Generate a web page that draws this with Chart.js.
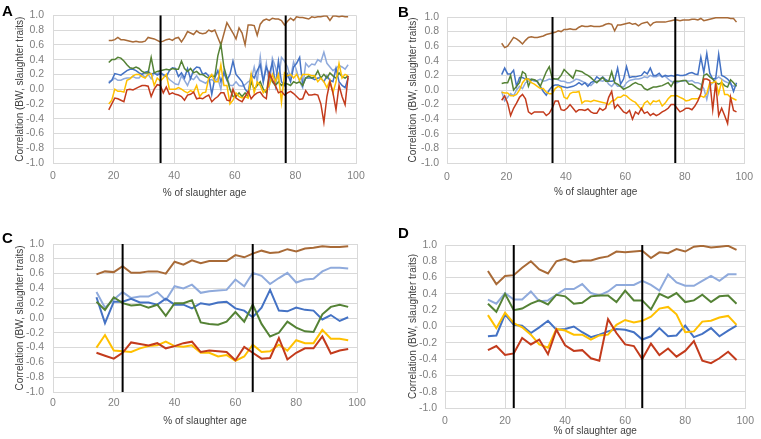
<!DOCTYPE html>
<html>
<head>
<meta charset="utf-8">
<script src="https://cdn.jsdelivr.net/npm/chart.js@4.4.1/dist/chart.umd.min.js"></script>
<style>
  body { margin: 0; background: #fff; width: 761px; height: 439px; position: relative; overflow: hidden; font-family: "Liberation Sans", Arial, sans-serif; }
  .panel { position: absolute; }
  .tag { position: absolute; font-weight: bold; font-size: 15px; line-height: 1; color: #000; }
</style>
</head>
<body>
<div class="panel" style="left:0;top:0;width:380px;height:219px"><canvas id="chartA"></canvas></div>
<div class="panel" style="left:380px;top:0;width:381px;height:219px"><canvas id="chartB"></canvas></div>
<div class="panel" style="left:0;top:219px;width:380px;height:220px"><canvas id="chartC"></canvas></div>
<div class="panel" style="left:380px;top:219px;width:381px;height:220px"><canvas id="chartD"></canvas></div>
<div class="tag" style="left:2px;top:3px">A</div>
<div class="tag" style="left:398px;top:4px">B</div>
<div class="tag" style="left:2px;top:230px">C</div>
<div class="tag" style="left:398px;top:225px">D</div>
<script>
// x positions (% of slaughter age)
const ageAB = [
  18.4, 19.4, 20.4, 21.4, 22.4, 23.4, 24.4, 25.4, 26.4, 27.4,
  28.4, 29.4, 30.4, 31.4, 32.4, 33.4, 34.4, 35.4, 36.4, 37.4,
  38.4, 39.4, 40.4, 41.4, 42.4, 43.4, 44.4, 45.4, 46.4, 47.4,
  48.4, 49.4, 50.4, 51.4, 52.4, 53.4, 54.4, 55.4, 56.4, 57.4,
  58.4, 59.4, 60.4, 61.4, 62.4, 63.4, 64.4, 65.4, 66.4, 67.4,
  68.4, 69.4, 70.4, 71.4, 72.4, 73.4, 74.4, 75.4, 76.4, 77.4,
  78.4, 79.4, 80.4, 81.4, 82.4, 83.4, 84.4, 85.4, 86.4, 87.4,
  88.4, 89.4, 90.4, 91.4, 92.4, 93.4, 94.4, 95.4, 96.4, 97.4
]
const ageCD = [14.3, 17.1, 20.0, 22.9, 25.7, 28.6, 31.4, 34.3, 37.1, 40.0,
  42.9, 45.7, 48.6, 51.4, 54.3, 57.1, 60.0, 62.9, 65.7, 68.6,
  71.4, 74.3, 77.1, 80.0, 82.9, 85.7, 88.6, 91.4, 94.3, 97.1]
const markAB = [35.5, 76.8]
const markCD = [22.9, 65.7]

// panel A
const brownA = [0.66,0.66,0.67,0.70,0.67,0.67,0.66,0.65,0.64,0.65,
  0.64,0.64,0.65,0.70,0.69,0.68,0.66,0.64,0.65,0.67,
  0.68,0.66,0.69,0.70,0.64,0.70,0.78,0.76,0.74,0.79,
  0.76,0.75,0.76,0.80,0.78,0.80,0.70,0.60,0.75,0.90,
  0.83,0.76,0.68,0.83,0.76,0.60,0.87,0.87,0.86,0.73,
  0.88,0.93,0.95,0.93,0.96,0.95,0.95,0.93,0.87,0.92,
  0.96,0.93,0.98,0.97,0.97,0.96,0.95,0.98,0.97,0.98,
  0.98,0.99,0.99,0.93,0.99,0.99,0.98,0.99,0.98,0.98]
const greenA = [0.36,0.40,0.40,0.43,0.42,0.38,0.33,0.29,0.28,0.30,
  0.28,0.24,0.22,0.22,0.43,0.22,0.24,0.25,0.26,0.27,
  0.26,0.28,0.27,0.27,0.38,0.28,0.24,0.28,0.22,0.24,
  0.20,0.20,0.17,0.15,0.18,0.17,0.45,0.61,0.30,0.15,
  0.00,-0.10,-0.10,-0.05,-0.10,-0.05,-0.10,0.10,0.00,0.05,
  0.10,0.00,-0.05,0.20,0.10,0.05,0.10,0.05,0.08,0.07,
  0.05,0.10,0.08,0.10,0.05,0.15,0.18,0.15,0.17,0.25,
  0.15,0.20,0.15,0.22,0.18,0.15,0.22,0.17,0.15,0.18]
const blueA = [0.08,0.12,0.21,0.20,0.19,0.22,0.25,0.27,0.27,0.25,
  0.22,0.20,0.23,0.24,0.20,0.22,0.19,0.21,0.20,0.17,
  0.25,0.29,0.28,0.17,0.22,0.15,0.28,0.14,0.26,0.30,
  0.29,0.20,0.22,0.18,-0.07,0.15,0.25,0.10,0.22,0.12,
  0.20,0.38,0.20,0.15,0.10,0.00,-0.05,0.20,0.15,0.25,
  0.33,0.10,0.30,0.20,0.36,0.05,0.38,0.10,0.05,0.20,
  0.10,0.30,0.35,0.43,0.05,0.15,0.15,0.15,0.13,0.15,
  0.15,0.10,0.18,0.12,0.10,0.28,0.10,0.05,0.02,0.15]
const lightBlueA = [0.10,0.12,0.15,0.12,0.12,0.14,0.15,0.15,0.17,0.15,
  0.15,0.20,0.16,0.20,0.14,0.22,0.20,0.25,0.18,0.18,
  0.13,0.10,0.07,0.06,0.18,0.12,0.05,0.15,0.13,0.18,
  0.12,0.10,0.08,0.12,0.13,0.10,0.15,0.00,0.25,0.15,
  0.05,0.05,0.10,0.05,0.04,0.06,0.10,0.12,0.30,0.10,
  0.44,0.10,0.35,0.05,0.42,0.30,0.12,0.43,0.38,0.30,
  0.15,0.37,0.25,0.10,0.02,0.35,0.30,0.34,0.33,0.40,
  0.37,0.50,0.35,0.30,0.25,0.28,0.32,0.30,0.27,0.33]
const yellowA = [-0.20,-0.15,0.00,-0.03,-0.03,-0.04,0.12,0.14,0.18,0.20,
  0.20,0.17,0.15,0.20,0.21,0.05,0.15,0.11,0.15,0.20,
  0.00,0.00,0.00,0.02,0.00,-0.03,-0.05,-0.02,-0.04,0.05,
  -0.10,-0.05,-0.04,0.15,0.20,0.10,0.10,0.33,0.05,0.05,
  -0.20,-0.15,-0.05,-0.10,-0.12,-0.10,-0.12,0.20,-0.05,0.10,
  0.05,-0.05,0.00,0.05,0.20,0.10,0.20,-0.18,0.22,0.18,
  0.20,0.15,0.20,0.12,0.20,0.20,0.20,0.18,0.18,0.10,
  0.15,0.10,0.02,0.12,-0.05,0.10,0.35,0.15,0.20,0.18]
const redA = [-0.28,-0.20,-0.12,-0.13,-0.15,-0.17,-0.01,0.00,-0.01,0.01,
  0.03,0.05,0.05,0.04,-0.10,0.00,0.06,0.05,-0.05,0.03,
  -0.07,-0.05,-0.07,-0.08,-0.10,-0.15,-0.08,-0.07,-0.04,-0.13,
  -0.12,-0.13,-0.10,-0.08,-0.17,-0.13,-0.10,-0.05,-0.05,-0.15,
  -0.16,0.00,-0.12,-0.15,-0.17,-0.10,-0.03,-0.13,-0.08,-0.05,
  -0.04,-0.10,-0.13,0.22,0.13,0.05,-0.05,-0.03,-0.08,-0.05,
  -0.03,-0.06,-0.10,-0.14,-0.13,-0.02,-0.08,-0.08,-0.07,-0.08,
  -0.20,-0.45,-0.10,0.10,-0.05,-0.28,0.05,-0.10,-0.21,0.18]

// panel B
const brownB = [0.64,0.58,0.60,0.66,0.72,0.70,0.67,0.63,0.68,0.72,
  0.73,0.72,0.72,0.73,0.74,0.76,0.77,0.78,0.79,0.81,
  0.80,0.83,0.83,0.84,0.83,0.83,0.86,0.88,0.87,0.87,
  0.88,0.87,0.87,0.87,0.88,0.90,0.91,0.90,0.81,0.89,
  0.89,0.90,0.91,0.92,0.90,0.91,0.88,0.91,0.92,0.93,
  0.88,0.92,0.93,0.93,0.93,0.93,0.94,0.95,0.96,0.96,
  0.95,0.96,0.96,0.96,0.97,0.97,0.96,0.98,0.95,0.96,
  0.97,0.98,0.99,0.99,0.99,0.99,0.99,0.98,0.98,0.93]
const blueB = [0.21,0.30,0.22,0.22,0.27,0.05,0.17,0.17,0.15,0.15,
  0.14,0.14,0.11,0.05,-0.02,-0.07,0.00,0.05,0.07,0.07,
  0.05,0.04,0.03,0.04,0.05,0.07,0.10,0.07,0.10,0.05,
  0.10,0.12,0.18,0.15,0.18,0.14,0.12,0.12,0.13,0.30,
  0.08,0.15,0.32,0.17,0.18,0.18,0.19,0.20,0.25,0.22,
  0.30,0.20,0.20,0.23,0.18,0.20,0.19,0.20,0.19,0.21,
  0.20,0.20,0.21,0.23,0.24,0.22,0.21,0.45,0.24,0.50,
  0.23,0.15,0.16,0.49,0.20,0.18,0.15,0.10,-0.02,0.10]
const greenB = [0.09,0.10,0.10,0.20,0.00,0.05,0.10,0.25,0.22,0.05,
  0.15,0.14,0.12,0.05,0.15,0.25,0.32,0.16,0.15,0.15,
  0.20,0.28,0.24,0.20,0.16,0.27,0.26,0.25,0.22,0.20,
  0.17,0.13,0.10,0.14,0.17,0.12,0.12,0.25,0.10,0.08,
  0.05,0.01,0.03,0.05,0.08,0.10,0.08,0.07,0.02,0.00,
  0.02,0.04,0.04,0.05,0.06,0.08,0.10,0.05,0.12,0.12,
  0.12,0.13,0.13,0.08,0.08,0.05,0.02,0.00,0.20,0.22,
  0.18,0.15,0.10,0.08,0.10,0.06,0.04,0.14,0.10,0.05]
const lightBlueB = [-0.02,-0.15,-0.10,-0.05,-0.08,0.00,0.05,0.02,0.10,0.12,
  0.14,0.12,0.13,0.15,0.12,0.13,0.15,0.14,0.15,0.14,
  0.12,0.12,0.10,0.10,0.12,0.15,0.14,0.12,0.10,0.08,
  0.06,0.10,0.12,0.13,0.12,0.14,0.08,0.05,0.10,0.05,
  0.05,0.04,0.10,0.13,0.14,0.15,0.15,0.16,0.18,0.17,
  0.20,0.18,0.18,0.20,0.18,0.19,0.15,0.12,0.10,0.10,
  0.12,0.12,0.13,0.12,0.13,0.10,0.10,0.08,0.02,-0.13,
  0.05,0.10,0.15,0.18,0.15,0.12,0.10,0.08,0.05,0.07]
const yellowB = [-0.03,-0.04,-0.04,-0.08,-0.08,-0.06,0.00,0.10,0.15,0.15,
  0.10,0.08,0.05,0.02,0.02,-0.03,-0.05,-0.05,0.02,0.05,
  0.03,-0.10,-0.12,-0.05,-0.03,-0.03,-0.02,-0.18,-0.15,-0.15,
  -0.16,-0.14,-0.15,-0.16,-0.17,-0.18,-0.20,-0.15,-0.14,-0.10,
  -0.10,-0.07,-0.08,-0.12,-0.15,-0.17,-0.22,-0.27,-0.18,-0.15,
  -0.20,-0.15,-0.16,-0.14,-0.22,-0.18,-0.12,-0.08,-0.08,-0.08,
  -0.10,-0.12,-0.15,-0.14,-0.12,-0.12,-0.12,-0.08,-0.10,-0.05,
  0.10,0.10,0.12,-0.05,0.12,-0.06,-0.06,-0.10,-0.12,-0.14]
const redB = [-0.14,-0.08,-0.18,-0.35,-0.25,-0.18,-0.10,-0.06,-0.12,-0.30,
  -0.33,-0.30,-0.30,-0.30,-0.30,-0.35,-0.32,-0.25,-0.15,-0.15,
  -0.27,-0.28,-0.25,-0.20,-0.25,-0.30,-0.27,-0.27,-0.28,-0.26,
  -0.30,-0.32,-0.32,-0.25,-0.28,-0.25,-0.10,-0.02,-0.25,-0.20,
  -0.25,-0.30,-0.32,-0.28,-0.40,-0.30,-0.33,-0.25,-0.32,-0.30,
  -0.35,-0.32,-0.35,-0.33,-0.30,-0.28,-0.25,-0.20,-0.20,-0.25,
  -0.30,-0.28,-0.25,-0.25,-0.27,-0.22,-0.15,-0.05,0.15,0.15,
  0.13,-0.27,0.10,-0.35,-0.25,-0.35,-0.46,-0.10,-0.28,-0.30]

// panel C
const brownC = [0.59,0.63,0.62,0.70,0.61,0.61,0.63,0.63,0.60,0.76,0.72,0.78,0.74,0.77,0.77,
  0.77,0.85,0.82,0.87,0.91,0.88,0.89,0.93,0.90,0.94,0.95,0.97,0.96,0.96,0.97]
const lightBlueC = [0.35,0.14,0.25,0.35,0.27,0.29,0.29,0.35,0.24,0.43,0.40,0.45,0.34,0.36,0.37,
  0.38,0.52,0.43,0.61,0.57,0.46,0.54,0.61,0.48,0.52,0.53,0.63,0.68,0.68,0.67]
const blueC = [0.28,-0.07,0.22,0.22,0.26,0.21,0.21,0.18,0.26,0.18,0.18,0.13,0.20,0.18,0.21,
  0.22,0.13,0.10,0.01,0.14,0.38,0.10,0.09,0.14,0.11,0.10,-0.02,0.04,-0.04,0.01]
const greenC = [0.22,0.11,0.28,0.20,0.17,0.18,0.14,0.18,0.03,0.20,0.20,0.24,-0.06,-0.08,-0.09,
  -0.05,0.08,-0.05,0.18,-0.08,-0.25,-0.20,-0.05,-0.13,-0.18,-0.19,0.05,0.15,0.18,0.15]
const yellowC = [-0.40,-0.23,-0.44,-0.45,-0.46,-0.41,-0.38,-0.37,-0.32,-0.38,-0.39,-0.37,-0.47,-0.47,-0.52,
  -0.50,-0.58,-0.52,-0.36,-0.46,-0.45,-0.36,-0.44,-0.30,-0.34,-0.34,-0.16,-0.28,-0.28,-0.30]
const redC = [-0.47,-0.51,-0.55,-0.47,-0.33,-0.35,-0.37,-0.34,-0.41,-0.38,-0.34,-0.32,-0.46,-0.44,-0.45,
  -0.46,-0.57,-0.39,-0.47,-0.55,-0.54,-0.27,-0.56,-0.47,-0.41,-0.41,-0.25,-0.48,-0.44,-0.42]

// panel D
const brownD = [0.68,0.52,0.62,0.63,0.72,0.80,0.70,0.65,0.80,0.83,0.79,0.81,0.81,0.84,0.86,
  0.92,0.91,0.92,0.93,0.84,0.91,0.90,0.95,0.92,0.98,0.99,0.97,0.98,0.99,0.94]
const lightBlueD = [0.33,0.28,0.41,0.33,0.33,0.43,0.31,0.32,0.39,0.46,0.46,0.52,0.41,0.38,0.43,
  0.51,0.51,0.51,0.56,0.51,0.44,0.64,0.54,0.50,0.50,0.56,0.62,0.56,0.64,0.64]
const greenD = [0.28,0.18,0.40,0.20,0.22,0.28,0.32,0.27,0.39,0.37,0.28,0.29,0.37,0.38,0.38,
  0.30,0.44,0.32,0.32,0.21,0.40,0.35,0.41,0.30,0.32,0.39,0.30,0.37,0.38,0.28]
const yellowD = [0.14,-0.02,0.17,0.04,-0.01,-0.10,-0.22,-0.26,-0.03,-0.05,-0.10,-0.10,-0.16,-0.11,-0.10,
  0.02,0.08,0.05,0.07,0.12,0.22,0.24,0.15,-0.07,-0.06,0.06,0.07,0.11,0.13,0.02]
const blueD = [-0.12,-0.11,0.15,0.02,0.01,-0.08,-0.01,0.07,-0.04,-0.03,0.00,-0.07,-0.13,-0.10,-0.06,
  -0.03,-0.04,-0.07,-0.16,-0.12,-0.02,-0.12,-0.11,0.01,-0.13,-0.09,-0.02,-0.12,-0.05,0.01]
const redD = [-0.29,-0.24,-0.35,-0.33,-0.14,-0.22,-0.16,-0.34,-0.04,-0.23,-0.30,-0.29,-0.39,-0.42,0.09,
  -0.08,-0.22,-0.24,-0.40,-0.21,-0.35,-0.27,-0.37,-0.30,-0.18,-0.42,-0.45,-0.39,-0.31,-0.41]

const BROWN = '#A86A37', LIGHTBLUE = '#8FAADC', BLUE = '#4472C4', GREEN = '#548235', YELLOW = '#FFC000', RED = '#C33B1C'

Chart.defaults.font.family = "'Liberation Sans', Arial, sans-serif"

function makePanel(id, xs, lines, marks, g) {
  // black markers first so they sit on top
  const datasets = marks.map(m => ({
    data: [{ x: m, y: -1 }, { x: m, y: 1 }],
    borderColor: '#000', borderWidth: 2, pointRadius: 0
  }))
  lines.forEach(([ys, color]) => {
    datasets.push({
      data: ys.map((y, i) => ({ x: xs[i], y: y })),
      borderColor: color, borderWidth: g.lw, pointRadius: 0, tension: 0
    })
  })
  return new Chart(document.getElementById(id), {
    type: 'line',
    data: { datasets },
    options: {
      responsive: true,
      maintainAspectRatio: false,
      animation: false,
      layout: { padding: { top: g.top, right: g.right, bottom: g.bottom, left: 0 } },
      plugins: { legend: { display: false }, tooltip: { enabled: false } },
      scales: {
        x: {
          type: 'linear', min: 0, max: 100,
          ticks: { stepSize: 20, padding: g.xTickPad, color: '#7f7f7f', font: { size: 10.5 }, maxRotation: 0, autoSkip: false },
          grid: { color: '#d9d9d9', drawTicks: false },
          border: { color: '#d9d9d9' },
          title: { display: true, text: '% of slaughter age', color: '#404040', font: { size: 10 }, padding: 0 },
          afterFit: s => { s.height = g.xH }
        },
        y: {
          min: -1, max: 1,
          ticks: {
            stepSize: 0.2, padding: g.yTickPad, color: '#7f7f7f', font: { size: 10.5 }, autoSkip: false,
            callback: v => Math.abs(v) < 1e-9 ? '0.0' : v.toFixed(1)
          },
          grid: { color: '#d9d9d9', drawTicks: false },
          border: { color: '#d9d9d9' },
          title: { display: true, text: 'Correlation (BW, slaughter traits)', color: '#404040', font: { size: 10 }, padding: { top: g.yTitlePad, bottom: 0 } },
          afterFit: s => { s.width = g.yW }
        }
      }
    }
  })
}

makePanel('chartA', ageAB,
  [[redA, RED], [yellowA, YELLOW], [greenA, GREEN], [blueA, BLUE], [lightBlueA, LIGHTBLUE], [brownA, BROWN]],
  markAB, { top: 15, right: 24, bottom: 20, xH: 36, yW: 53, yTitlePad: 14, yTickPad: 9, xTickPad: 7, lw: 1.5 })
makePanel('chartB', ageAB,
  [[redB, RED], [yellowB, YELLOW], [greenB, GREEN], [blueB, BLUE], [lightBlueB, LIGHTBLUE], [brownB, BROWN]],
  markAB, { top: 17, right: 13, bottom: 21, xH: 35, yW: 67, yTitlePad: 27, yTickPad: 8, xTickPad: 8, lw: 1.5 })
makePanel('chartC', ageCD,
  [[redC, RED], [yellowC, YELLOW], [greenC, GREEN], [blueC, BLUE], [lightBlueC, LIGHTBLUE], [brownC, BROWN]],
  markCD, { top: 25, right: 23, bottom: 12, xH: 35, yW: 53, yTitlePad: 14, yTickPad: 9, xTickPad: 5, lw: 2 })
makePanel('chartD', ageCD,
  [[redD, RED], [yellowD, YELLOW], [greenD, GREEN], [blueD, BLUE], [lightBlueD, LIGHTBLUE], [brownD, BROWN]],
  markCD, { top: 26, right: 9, bottom: 2, xH: 29, yW: 65, yTitlePad: 27, yTickPad: 8, xTickPad: 7, lw: 2 })
</script>
</body>
</html>
